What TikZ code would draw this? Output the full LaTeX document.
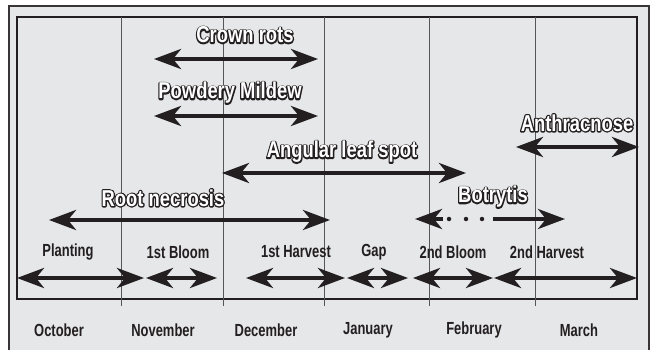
\documentclass[tikz,border=0pt]{standalone}
\usepackage{fontspec}
\usetikzlibrary{arrows.meta}
\newfontfamily\labfont[FakeStretch=0.74]{Liberation Sans}
\newfontfamily\disfont[FakeStretch=0.8]{Liberation Sans}
\definecolor{bg}{HTML}{E6E7E8}
\definecolor{ink}{HTML}{231F20}
\definecolor{grid}{HTML}{55565A}
\newcommand\hollowtxt[1]{\rlap{\textcolor{ink}{\special{pdf:literal direct 2.6 w 1 j 2 Tr}#1\special{pdf:literal direct 0 Tr}}}\textcolor{white}{#1}}
\begin{document}
\begin{tikzpicture}[x=1pt,y=-1pt,
  dbl/.style={line width=4pt, draw=ink, {Stealth[length=27pt,width=20pt,inset=8pt]}-{Stealth[length=27pt,width=20pt,inset=8pt]}},
  sgl/.style={line width=4pt, draw=ink, -{Stealth[length=27pt,width=20pt,inset=8pt]}},
  mon/.style={font=\labfont\bfseries\fontsize{17.5}{17.5}\selectfont, text=ink, inner sep=0},
  dis/.style={font=\disfont\bfseries\fontsize{23}{23}\selectfont, inner sep=0},
  gridline/.style={line width=0.8pt, draw=grid},
  dotmark/.style={circle, fill=ink, inner sep=0, minimum size=4.5pt}
]
\useasboundingbox (0,0) rectangle (650,350);
\fill[white] (0,0) rectangle (650,350);
\fill[bg] (9,6) rectangle (649,360);
\draw[line width=2.5pt, draw=ink!90] (9,360) -- (9,6) -- (649,6) -- (649,360);
\draw[line width=1.2pt, draw=ink] (17,17) rectangle (637,299);
\foreach \gx in {121,223,324,429,535} \draw[gridline] (\gx,17) -- (\gx,306);

% month labels
\node[mon] (oct) at (59,330) {October};
\node[mon] (nov) at (163,330) {November};
\node[mon] (dec) at (266,330) {December};
\node[mon] (jan) at (368,330) {January};
\node[mon] (feb) at (474,330) {February};
\node[mon] (mar) at (579,330) {March};

% stage labels
\node[mon] (plant) at (68,252) {Planting};
\node[mon] (bloom1) at (178,252) {1st Bloom};
\node[mon] (harv1) at (296,252) {1st Harvest};
\node[mon] (gap) at (374,252) {Gap};
\node[mon] (bloom2) at (453,252) {2nd Bloom};
\node[mon] (harv2) at (547,252) {2nd Harvest};

% stage arrows
\coordinate (pa) at (17,278);  \coordinate (pb) at (144,278);
\coordinate (ba) at (146,278); \coordinate (bb) at (217,278);
\coordinate (ha) at (246,278); \coordinate (hb) at (345,278);
\coordinate (ga) at (347,278); \coordinate (gb) at (408,278);
\coordinate (ca) at (413,278); \coordinate (cb) at (493,278);
\coordinate (da) at (494,278); \coordinate (db) at (637,278);
\draw[dbl] (pa) -- (pb);
\draw[dbl] (ba) -- (bb);
\draw[dbl] (ha) -- (hb);
\draw[dbl] (ga) -- (gb);
\draw[dbl] (ca) -- (cb);
\draw[dbl] (da) -- (db);

% disease labels
\node[dis] (crown) at (245,35) {\hollowtxt{Crown rots}};
\node[dis] (powdery) at (230,93) {\hollowtxt{Powdery Mildew}};
\node[dis] (angular) at (342,152) {\hollowtxt{Angular leaf spot}};
\node[dis] (anthr) at (577,123) {\hollowtxt{Anthracnose}};
\node[dis] (root) at (163,198) {\hollowtxt{Root necrosis}};
\node[dis] (botr) at (493,197) {\hollowtxt{Botrytis}};

% disease arrows
\coordinate (cra) at (154,59);  \coordinate (crb) at (318,59);
\coordinate (pma) at (154,116); \coordinate (pmb) at (318,116);
\coordinate (ala) at (222,173); \coordinate (alb) at (466,173);
\coordinate (ana) at (516,147); \coordinate (anb) at (639,147);
\coordinate (rna) at (49,220);  \coordinate (rnb) at (330,220);
\draw[dbl] (cra) -- (crb);
\draw[dbl] (pma) -- (pmb);
\draw[dbl] (ala) -- (alb);
\draw[dbl] (ana) -- (anb);
\draw[dbl] (rna) -- (rnb);

% Botrytis
\coordinate (bta) at (415,219); \coordinate (btb) at (443,219);
\coordinate (btc) at (493,219); \coordinate (btd) at (565,219);
\draw[sgl] (btb) -- (bta);
\node[dotmark] (d1) at (449,219) {};
\node[dotmark] (d2) at (466,219) {};
\node[dotmark] (d3) at (482,219) {};
\draw[sgl] (btc) -- (btd);
\end{tikzpicture}
\end{document}
